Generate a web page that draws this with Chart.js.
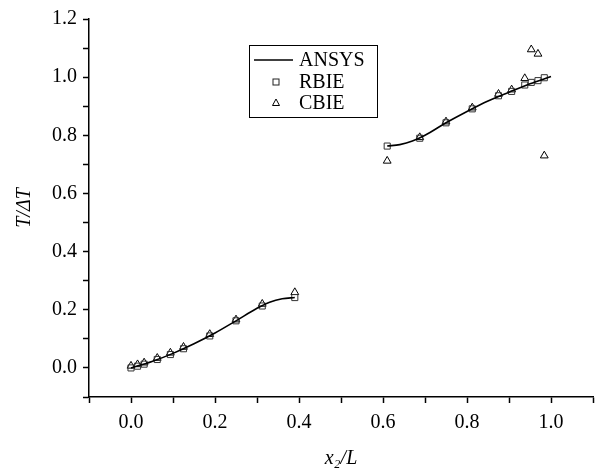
<!DOCTYPE html>
<html>
<head>
<meta charset="utf-8">
<script src="https://cdn.jsdelivr.net/npm/chart.js@4"></script>
<style>
  html, body { margin: 0; padding: 0; background: #fff; }
  #wrap { width: 601px; height: 469px; }
</style>
</head>
<body>
<div id="wrap"><canvas id="chart" width="601" height="469"></canvas></div>
<script>
// sample positions x2/L (two heated/loaded strips)
const xNodes = [0, 0.0156, 0.03125, 0.0625, 0.09375, 0.125, 0.1875, 0.25, 0.3125, 0.39,
                0.61, 0.6875, 0.75, 0.8125, 0.875, 0.90625, 0.9375, 0.953, 0.969, 0.984];
const rbieVals = [0.0, 0.006, 0.013, 0.029, 0.046, 0.066, 0.110, 0.162, 0.213, 0.242,
                  0.763, 0.790, 0.843, 0.891, 0.936, 0.951, 0.973, 0.982, 0.988, 0.998];
const cbieVals = [0.007, 0.012, 0.018, 0.034, 0.052, 0.072, 0.116, 0.166, 0.220, 0.260,
                  0.712, 0.793, 0.847, 0.895, 0.942, 0.957, 0.996, 1.095, 1.080, 0.730];

// ANSYS reference curve (null = gap between the two strips)
const ansysX = [0, 0.05, 0.1, 0.15, 0.2, 0.25, 0.3, 0.33, 0.36, 0.39,
                0.5,
                0.61, 0.64, 0.67, 0.7, 0.75, 0.8, 0.85, 0.9, 0.95, 1.0];
const ansysY = [0, 0.022, 0.050, 0.083, 0.120, 0.162, 0.205, 0.226, 0.238, 0.242,
                null,
                0.763, 0.768, 0.780, 0.800, 0.843, 0.882, 0.918, 0.948, 0.977, 1.002];

const FONT = "'Liberation Serif', 'Times New Roman', serif";

const pts = (xs, ys) => xs.map((x, i) => ({ x: x, y: ys[i] }));

function tickLabel(v) {
  const n = Math.round(v * 10);
  return n % 2 === 0 ? (n / 10).toFixed(1) : '';
}

// legend box drawn inside the plot, top-left of centre
const boxLegend = {
  id: 'boxLegend',
  afterDraw(chart) {
    const ctx = chart.ctx;
    const x0 = 249, y0 = 45, w = 128, h = 72;
    ctx.save();
    ctx.strokeStyle = '#000';
    ctx.lineWidth = 1;
    ctx.strokeRect(x0 + 0.5, y0 + 0.5, w, h);
    ctx.font = '20px ' + FONT;
    ctx.fillStyle = '#000';
    ctx.textBaseline = 'middle';
    const rows = [60, 82, 103];
    // ANSYS line
    ctx.lineWidth = 1.5;
    ctx.beginPath();
    ctx.moveTo(254, rows[0]);
    ctx.lineTo(293, rows[0]);
    ctx.stroke();
    // RBIE square
    ctx.lineWidth = 1;
    ctx.strokeStyle = '#222';
    ctx.strokeRect(273, rows[1] - 3, 6, 6);
    // CBIE triangle
    ctx.strokeStyle = '#000';
    ctx.beginPath();
    ctx.moveTo(276, rows[2] - 4);
    ctx.lineTo(279.5, rows[2] + 2.5);
    ctx.lineTo(272.5, rows[2] + 2.5);
    ctx.closePath();
    ctx.stroke();
    ctx.fillText('ANSYS', 299, rows[0] + 1);
    ctx.fillText('RBIE', 299, rows[1] + 1);
    ctx.fillText('CBIE', 299, rows[2] + 1);
    ctx.restore();
  }
};

new Chart(document.getElementById('chart'), {
  type: 'scatter',
  data: {
    datasets: [
      {
        label: 'ANSYS',
        data: pts(ansysX, ansysY),
        showLine: true,
        spanGaps: false,
        borderColor: '#000',
        borderWidth: 1.6,
        cubicInterpolationMode: 'monotone',
        pointRadius: 0,
        fill: false
      },
      {
        label: 'RBIE',
        data: pts(xNodes, rbieVals),
        pointStyle: 'rect',
        pointRadius: 4.3,
        borderColor: '#333',
        backgroundColor: 'rgba(0,0,0,0)',
        borderWidth: 1
      },
      {
        label: 'CBIE',
        data: pts(xNodes, cbieVals),
        pointStyle: 'triangle',
        pointRadius: 4.5,
        borderColor: '#000',
        backgroundColor: 'rgba(0,0,0,0)',
        borderWidth: 1
      }
    ]
  },
  options: {
    responsive: false,
    animation: false,
    layout: { padding: { left: 0, right: 2, top: 19, bottom: 0 } },
    plugins: {
      legend: { display: false },
      tooltip: { enabled: false }
    },
    scales: {
      x: {
        type: 'linear',
        min: -0.1,
        max: 1.1,
        afterFit(scale) { scale.height = 72; },
        border: { color: '#000', width: 1.5 },
        grid: { drawOnChartArea: false, drawTicks: true, tickLength: 6, color: '#000', tickWidth: 1.5 },
        ticks: {
          stepSize: 0.1,
          autoSkip: false,
          maxRotation: 0,
          padding: 8,
          color: '#000',
          font: { family: FONT, size: 20 },
          callback: tickLabel
        },
        title: {
          display: true,
          text: 'x\u2082/L',
          color: '#000',
          font: { family: FONT, size: 20, style: 'italic', lineHeight: 1 },
          padding: { top: 0, bottom: 0 }
        }
      },
      y: {
        type: 'linear',
        min: -0.1,
        max: 1.2,
        afterFit(scale) { scale.width = 89; },
        border: { color: '#000', width: 1.5 },
        grid: { drawOnChartArea: false, drawTicks: true, tickLength: 6, color: '#000', tickWidth: 1.5 },
        ticks: {
          stepSize: 0.1,
          autoSkip: false,
          padding: 6,
          color: '#000',
          font: { family: FONT, size: 20 },
          callback: tickLabel
        },
        title: {
          display: true,
          text: 'T/\u0394T',
          color: '#000',
          font: { family: FONT, size: 20, style: 'italic', lineHeight: 1 },
          padding: { top: 15, bottom: 0 }
        }
      }
    }
  },
  plugins: [boxLegend]
});
</script>
</body>
</html>
